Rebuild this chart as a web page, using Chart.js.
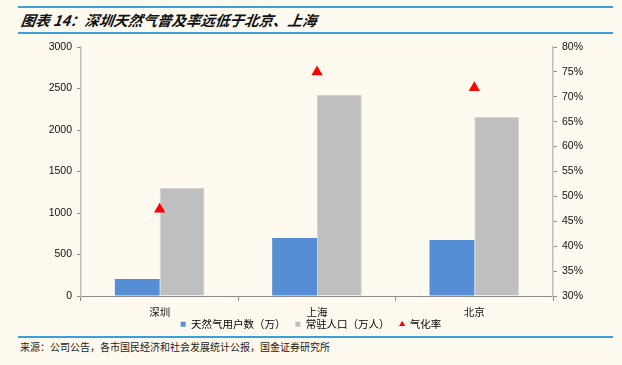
<!DOCTYPE html>
<html><head><meta charset="utf-8">
<script src="https://cdn.jsdelivr.net/npm/chart.js@4.4.1/dist/chart.umd.min.js"></script>
<style>
html,body{margin:0;padding:0;background:#FEFAF0;}
#wrap{position:relative;width:622px;height:365px;background:#FEFAF0;overflow:hidden;}
.line{position:absolute;left:18px;width:595px;height:2px;background:#3AA0DA;}
#title{position:absolute;left:21px;top:10px;font-family:"Noto Sans CJK SC";font-weight:bold;font-style:italic;font-size:14.5px;line-height:20px;color:#111;white-space:nowrap;transform:skewX(-8deg);}
#src{position:absolute;left:20px;top:340px;font-family:"Noto Sans CJK SC";font-size:10px;line-height:14px;color:#222;white-space:nowrap;}
#c{position:absolute;left:0;top:0;}
</style></head>
<body><div id="wrap">
<div class="line" style="top:6px"></div>
<div id="title">图表 14：深圳天然气普及率远低于北京、上海</div>
<div class="line" style="top:32px"></div>
<canvas id="c" width="622" height="336"></canvas>
<div class="line" style="top:336px"></div>
<div id="src">来源：公司公告，各市国民经济和社会发展统计公报，国金证券研究所</div>
</div>
<script>
const categories = ["深圳", "上海", "北京"];
const gasUsers = [205, 700, 675];          // 天然气用户数（万）
const population = [1300, 2422, 2157];     // 常驻人口（万人）
const gasRate = [47.4, 75.0, 71.8];        // 气化率 (%)
const leftTicks = [0, 500, 1000, 1500, 2000, 2500, 3000];
const rightTicks = [30, 35, 40, 45, 50, 55, 60, 65, 70, 75, 80];

const FONT = "'Liberation Sans', Arial, sans-serif";
const CJK = "'Noto Sans CJK SC', sans-serif";

new Chart(document.getElementById('c'), {
  data: {
    labels: categories,
    datasets: [
      {type:'scatter', label:'气化率', data: gasRate, yAxisID:'y1', pointStyle:'triangle', pointRadius:6.5, pointHoverRadius:6.5,
       backgroundColor:'#FF0000', borderColor:'#FF0000', borderWidth:0, showLine:false, order:0},
      {type:'bar', label:'天然气用户数（万）', data: gasUsers, yAxisID:'y', backgroundColor:'#558ED5', order:2,
       categoryPercentage:0.57, barPercentage:1.0},
      {type:'bar', label:'常驻人口（万人）', data: population, yAxisID:'y', backgroundColor:'#BFBFBF', borderColor:'#D3D3D3', borderWidth:{left:1,right:1,top:1,bottom:0}, order:2,
       categoryPercentage:0.57, barPercentage:1.0}
    ]
  },
  options: {
    responsive:false, animation:false, devicePixelRatio:1,
    layout:{padding:{top:47, left:0, right:0, bottom:0}},
    plugins:{
      tooltip:{enabled:false},
      legend:{position:'bottom', align:'center',
        labels:{usePointStyle:true, boxWidth:5, boxHeight:5, padding:10, color:'#111', font:{family:CJK, size:10.5},
          sort:(a,b)=>[1,2,0].indexOf(a.datasetIndex)-[1,2,0].indexOf(b.datasetIndex),
          generateLabels:(chart)=>{
            return chart.data.datasets.map((ds,i)=>({
              text:ds.label, fillStyle:ds.backgroundColor, strokeStyle:ds.backgroundColor, lineWidth:0,
              pointStyle: ds.type==='scatter' ? 'triangle' : 'rect', datasetIndex:i, hidden:false
            }));
          }}
      }
    },
    scales:{
      x:{type:'category', offset:true,
        grid:{display:true, offset:true, drawOnChartArea:false, tickLength:5, color:'#8C8C8C'},
        border:{display:true, color:'#8C8C8C', width:1},
        ticks:{color:'#111', font:{family:CJK, size:10.5}, padding:5},
        afterFit:(s)=>{s.height=24;}
      },
      y:{position:'left', min:0, max:3000,
        afterBuildTicks:(s)=>{s.ticks=leftTicks.map(v=>({value:v}));},
        grid:{display:true, drawOnChartArea:false, tickLength:4, color:'#8C8C8C'},
        border:{display:true, color:'#BFBFBF', width:1.5},
        ticks:{color:'#111', font:{family:FONT, size:10.5}, padding:5, callback:(v)=>String(v)},
        afterFit:(s)=>{s.width=81;}
      },
      y1:{position:'right', min:30, max:80,
        afterBuildTicks:(s)=>{s.ticks=rightTicks.map(v=>({value:v}));},
        grid:{display:true, drawOnChartArea:false, tickLength:4, color:'#8C8C8C'},
        border:{display:true, color:'#BFBFBF', width:1.5},
        ticks:{color:'#111', font:{family:FONT, size:10.5}, padding:5, callback:(v)=>v+'%'},
        afterFit:(s)=>{s.width=69;}
      }
    }
  },
  plugins:[{
    id:'legendFit',
    afterInit(chart){
      const lg = chart.legend;
      const f = lg.fit.bind(lg);
      lg.fit = function(){ f(); this.height = 16; };
    },
    beforeDraw(chart){
      const lg = chart.legend;
      lg.top = chart.chartArea.bottom + 13;
    }
  }]
});
</script>
</body></html>
